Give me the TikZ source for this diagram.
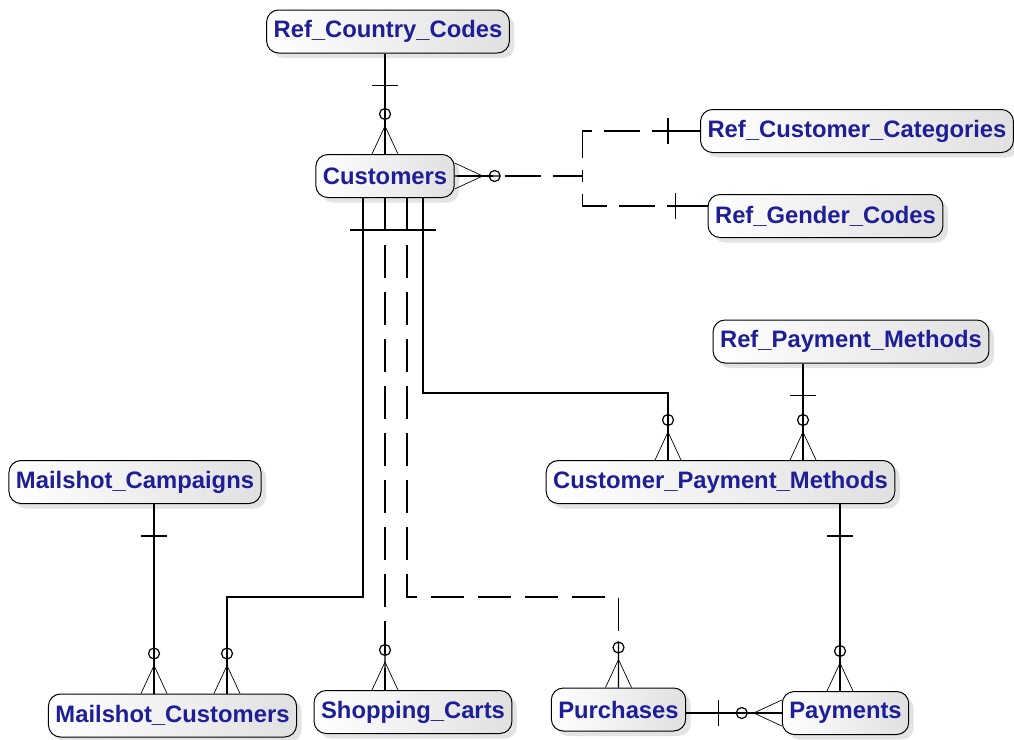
\documentclass[tikz,border=0pt]{standalone}
\usepackage{fontspec}
\setmainfont{Liberation Sans}
\usepackage{xcolor}
\usetikzlibrary{positioning, shadows}

\definecolor{entitytext}{RGB}{30,30,150}

\begin{document}
\begin{tikzpicture}[node distance=100pt, x=1pt, y=-1pt]
    % Définition des styles
    \tikzset{
        entity/.style   = {rectangle, draw, line width=1pt, rounded corners=12pt, left color=white, right color=black!12,
                           drop shadow={shadow xshift=5pt, shadow yshift=-5pt, fill=black!22},
                           minimum height=43pt, inner xsep=7pt, text=entitytext,
                           font=\bfseries\fontsize{23.8}{26}\selectfont},
        ident/.style    = {draw, line width=1.2pt},
        nonident/.style = {draw, line width=1.2pt, dash pattern=on 33pt off 14pt},
        one/.pic        = {\draw[line width=1.2pt] (0,0) -- (32,0) (32,-13) -- (32,13);},
        zmany/.pic      = {\draw[line width=1.2pt] (0,0) -- (46,0) (40,0) circle (5.5pt);
                           \draw[line width=0.7pt] (0,-13) -- (28,0) -- (0,13);}
    }
    \useasboundingbox (0,0) rectangle (1014,739);

    % Entités
    \node [entity] at (388,31.5) (refcountry) {Ref\_Country\_Codes};
    \node [entity, below of=refcountry, xshift=-3pt, yshift=-44.5pt] (customers) {Customers};
    \node [entity, right of=customers, xshift=372pt, yshift=45pt] (refcat) {Ref\_Customer\_Categories};
    \node [entity, below of=refcat, xshift=-31.5pt, yshift=15pt] (refgender) {Ref\_Gender\_Codes};
    \node [entity, below of=refgender, xshift=25.5pt, yshift=-25.5pt] (refpay) {Ref\_Payment\_Methods};
    \node [entity, below of=refpay, xshift=-130.5pt, yshift=-40.5pt] (custpay) {Customer\_Payment\_Methods};
    \node [entity, left of=custpay, xshift=-485.5pt] (mailcamp) {Mailshot\_Campaigns};
    \node [entity, below of=mailcamp, xshift=37.5pt, yshift=-133.5pt] (mailcust) {Mailshot\_Customers};
    \node [entity, right of=mailcust, xshift=140.5pt, yshift=3.5pt] (carts) {Shopping\_Carts};
    \node [entity, right of=carts, xshift=105.5pt, yshift=2.5pt] (purchases) {Purchases};
    \node [entity, right of=purchases, xshift=127pt, yshift=-3.5pt] (payments) {Payments};

    % Points de passage
    \coordinate (fork) at ([xshift=128pt]customers.east);
    \coordinate (gendin) at ([yshift=10pt]refgender.west);
    \coordinate (c1) at ([xshift=-22pt]customers.south);
    \coordinate (c2) at (customers.south);
    \coordinate (c3) at ([xshift=22pt]customers.south);
    \coordinate (c4) at ([xshift=38pt]customers.south);
    \coordinate (mc1) at ([xshift=-18.5pt]mailcust.north);
    \coordinate (mc2) at ([xshift=54.5pt]mailcust.north);
    \coordinate (cp1) at ([xshift=-52.5pt]custpay.north);
    \coordinate (rp) at ([xshift=-48pt]refpay.south);
    \coordinate (pm) at ([xshift=-5.5pt]payments.north);

    % Relations
    \path [ident] (refcountry.south -| customers.north) -- (customers.north);
    \path [nonident, dash pattern=on 36pt off 12pt, dash phase=46pt] (customers.east) -- (fork) |- (refcat.west);
    \path [nonident, dash pattern=on 36pt off 12pt, dash phase=46pt] (customers.east) -- (fork) |- (gendin);
    \path [ident] (c1) -- ++(0,399) -| (mc2);
    \path [nonident] (c2) -- (c2 |- carts.north);
    \path [nonident] (c3) -- ++(0,399) -| (purchases.north);
    \path [ident] (c4) -- ++(0,195) -| (cp1);
    \path [ident] (rp) -- (rp |- custpay.north);
    \path [ident] (pm |- custpay.south) -- (pm);
    \path [ident] (mc1 |- mailcamp.south) -- (mc1);
    \path [ident] (purchases.east |- payments.west) -- (payments.west);

    % Cardinalités
    \pic [rotate=-90] at (refcountry.south -| customers.north) {one};
    \pic [rotate=90] at (customers.north) {zmany};
    \pic at (customers.east) {zmany};
    \pic [rotate=180] at (refcat.west) {one};
    \pic [rotate=180] at (gendin) {one};
    \pic [rotate=-90] at (c1) {one};
    \pic [rotate=-90] at (c2) {one};
    \pic [rotate=-90] at (c3) {one};
    \pic [rotate=-90] at (c4) {one};
    \pic [rotate=90] at (mc1) {zmany};
    \pic [rotate=90] at (mc2) {zmany};
    \pic [rotate=90] at (c2 |- carts.north) {zmany};
    \pic [rotate=90] at (purchases.north) {zmany};
    \pic [rotate=90] at (cp1) {zmany};
    \pic [rotate=-90] at (rp) {one};
    \pic [rotate=90] at (rp |- custpay.north) {zmany};
    \pic [rotate=-90] at (pm |- custpay.south) {one};
    \pic [rotate=90] at (pm) {zmany};
    \pic [rotate=-90] at (mc1 |- mailcamp.south) {one};
    \pic at (purchases.east |- payments.west) {one};
    \pic [rotate=180] at (payments.west) {zmany};
\end{tikzpicture}
\end{document}
